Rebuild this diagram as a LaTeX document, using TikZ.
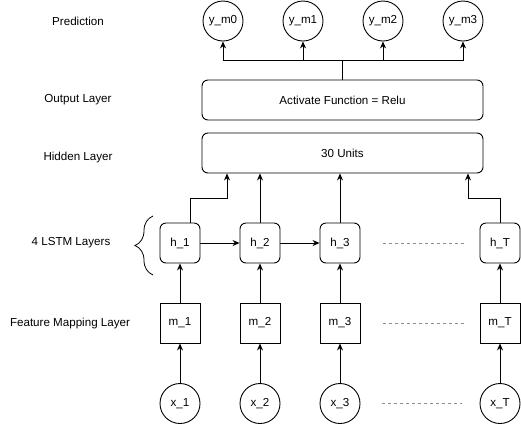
\documentclass[tikz,border=0pt]{standalone}
\usepackage{fontspec}
\setmainfont{Liberation Sans}
\usepackage{tikz}
\usetikzlibrary{positioning}
\usetikzlibrary{arrows.meta}
\usetikzlibrary{decorations.pathreplacing}
\definecolor{gapgray}{RGB}{140,140,140}

\tikzset{
  cell/.style={draw,rounded corners=6pt,minimum size=40pt,inner sep=0pt},
  feat/.style={draw,minimum size=40pt,inner sep=0pt},
  unit/.style={draw,circle,minimum size=40pt,inner sep=0pt},
  layer/.style={draw,rounded corners=6pt,minimum width=281pt,minimum height=40pt},
  gap/.style={gapgray,dash pattern=on 3pt off 3pt}
}

\begin{document}
\begin{tikzpicture}[x=1pt,y=-1pt,line width=0.9pt,node distance=80pt,on grid,
  >={Stealth[length=7pt,width=6pt]},font=\fontsize{11.6}{14}\selectfont]
   \useasboundingbox (0,0) rectangle (521,424);
   % row labels
   \node (lpred) at (78,21)  {Prediction};
   \node (lout)  at (78,100) {Output Layer};
   \node (lhid)  at (78,157) {Hidden Layer};
   \node (llstm) at (71,243) {4 LSTM Layers};
   \node (lfeat) at (70,323) {Feature Mapping Layer};
   % outputs
   \node[unit](y_m0) at (223,21) {y\_m0};
   \node[unit](y_m1) [right=of y_m0] {y\_m1};
   \node[unit](y_m2) [right=of y_m1] {y\_m2};
   \node[unit](y_m3) [right=of y_m2] {y\_m3};
   \node[layer](out) at (342.5,100) {Activate Function = Relu};
   \node[layer](hid) at (342.5,153) {30 Units};
   % time steps
   \node[cell](h_1) at (180,243) {h\_1};
   \node[cell](h_2) [right=of h_1] {h\_2};
   \node[cell](h_3) [right=of h_2] {h\_3};
   \node[cell](h_T) [right=160pt of h_3] {h\_T};
   \node[feat](m_1) [below=of h_1] {m\_1};
   \node[feat](m_2) [below=of h_2] {m\_2};
   \node[feat](m_3) [below=of h_3] {m\_3};
   \node[feat](m_T) [below=of h_T] {m\_T};
   \node[unit](x_1) [below=80.5pt of m_1] {x\_1};
   \node[unit](x_2) [below=80.5pt of m_2] {x\_2};
   \node[unit](x_3) [below=80.5pt of m_3] {x\_3};
   \node[unit](x_T) [below=80.5pt of m_T] {x\_T};
   \coordinate (split) at (342.5,60);

   \foreach \i in {1,2,3,T}
     \draw[->] (x_\i) -- (m_\i);
   \foreach \i in {1,2,3,T}
     \draw[->] (m_\i) -- (h_\i);
   \draw[->] (h_1) -- (h_2);
   \draw[->] (h_2) -- (h_3);
   \draw[->] ([xshift=10pt]h_1.north) -- ++(0,-24) -| ([xshift=-115.5pt]hid.south);
   \draw[->] (h_2) -- (h_2 |- hid.south);
   \draw[->] (h_3) -- (h_3 |- hid.south);
   \draw[->] (h_T.north) -- ++(0,-24) -| ([xshift=125.5pt]hid.south);
   \draw (out.north) -- (split);
   \foreach \j in {0,...,3}
     \draw[->] (split) -| (y_m\j);

   \draw[gap] ([xshift=23pt]h_3.east) -- ([xshift=-14pt]h_T.west);
   \draw[gap] ([xshift=23pt]m_3.east) -- ([xshift=-14pt]m_T.west);
   \draw[gap] ([xshift=22pt]x_3.east) -- ([xshift=-18pt]x_T.west);
   \draw[line width=0.8pt,decorate,decoration={brace,amplitude=18pt}] (153,275) -- (153,216);
\end{tikzpicture}
\end{document}
